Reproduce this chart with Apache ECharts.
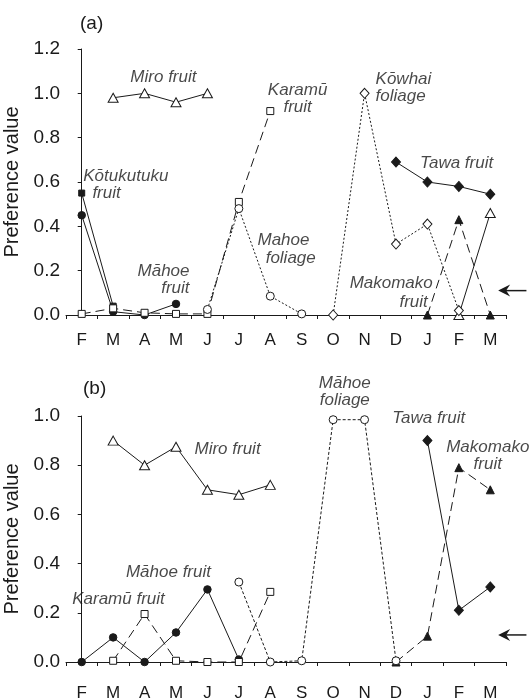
<!DOCTYPE html>
<html><head><meta charset="utf-8">
<script src="https://cdn.jsdelivr.net/npm/echarts@6/dist/echarts.min.js"></script>
<style>html,body{margin:0;padding:0;background:#fff}#c{width:529px;height:700px}</style>
</head><body><div id="c"></div>
<script>
// ---------- data ----------
const months = ['F','M','A','M','J','J','A','S','O','N','D','J','F','M'];
const _ = null;
// panel (a)
const aMiro        = [_,0.98,1.0,0.96,1.0,_,_,_,_,_,_,_,0.0,0.46];
const aKotukutuku  = [0.55,0.04,_,_,_,_,_,_,_,_,_,_,_,_];
const aMahoeFruit  = [0.45,0.015,0.0,0.05,_,_,_,_,_,_,_,_,_,_];
const aKaramu      = [0.005,0.03,0.01,0.005,0.005,0.51,0.92,_,_,_,_,_,_,_];
const aMahoeFol    = [_,_,_,_,0.025,0.48,0.085,0.005,_,_,_,_,_,_];
const aKowhai      = [_,_,_,_,_,_,_,_,0.0,1.0,0.32,0.41,0.02,_];
const aTawa        = [_,_,_,_,_,_,_,_,_,_,0.69,0.60,0.58,0.545];
const aMakomako    = [_,_,_,_,_,_,_,_,_,_,_,0.0,0.43,0.0];
// panel (b)
const bMiro        = [_,0.90,0.80,0.875,0.70,0.68,0.72,_,_,_,_,_,_,_];
const bMahoeFruit  = [0.0,0.10,0.0,0.12,0.295,0.01,_,_,_,_,_,_,_,_];
const bKaramu      = [_,0.005,0.195,0.005,0.0,0.0,0.285,_,_,_,_,_,_,_];
const bMahoeFol    = [_,_,_,_,_,0.325,0.0,0.005,0.985,0.985,0.005,_,_,_];
const bTawa        = [_,_,_,_,_,_,_,_,_,_,_,0.90,0.21,0.305];
const bMakomako    = [_,_,_,_,_,_,_,_,_,_,0.0,0.105,0.79,0.70];
// reference level marked by the arrow
const arrowLevel = [0.11, 0.11];
// y tick ranges
const yMaxA = 1.2, yMaxB = 1.0, yStep = 0.2;
// annotation texts
const annAText = ['Miro fruit','Kōtukutuku','fruit','Māhoe\nfruit','Karamū\nfruit','Kōwhai\nfoliage','Tawa fruit','Mahoe','foliage','Makomako','fruit'];
const annBText = ['Miro fruit','Māhoe fruit','Karamū fruit','Māhoe\nfoliage','Tawa fruit','Makomako\nfruit'];

// ---------- layout (data-coordinate anchors of annotations) ----------
const annAPos = [[2.6,1.073,'center'],[0.05,0.627,'left'],[0.34,0.55,'left'],[3.43,0.158,'right'],[6.87,0.974,'center'],
                 [9.35,1.024,'left'],[11.93,0.686,'center'],[6.42,0.338,'center'],[6.65,0.257,'center'],[11.17,0.144,'right'],[11.01,0.059,'right']];
const annBPos = [[4.64,0.865,'center'],[2.76,0.363,'center'],[1.17,0.257,'center'],[8.37,1.098,'center'],[11.04,0.992,'center'],[12.92,0.837,'center']];
const arrowX = [13.25, 14.15];

const INK = '#1a1a1a';
const FONT = '"Liberation Sans", Arial, sans-serif';
const LONG = [9,5], DOT = [2,2], DOT2 = [3,2];

function ls(name, data, ax, symbol, filled, size, dash) {
  return {type:'line', name, data, xAxisIndex:ax, yAxisIndex:ax, symbol, symbolSize:size,
    showSymbol:true, showAllSymbol:true, connectNulls:false, clip:false, animation:false, silent:true,
    lineStyle:{color:INK, width:1, type:dash},
    itemStyle:{color: filled ? INK : '#fff', borderColor:INK, borderWidth:1},
    emphasis:{disabled:true}};
}
function ann(texts, pos, xAx, yAx) {
  return {type:'scatter', xAxisIndex:xAx, yAxisIndex:yAx, clip:false, animation:false, silent:true,
    symbol:'circle', symbolSize:1, itemStyle:{color:'transparent'},
    data: texts.map((t,i)=>({name:t, value:[pos[i][0], pos[i][1]],
      label:{show:true, position:'inside', formatter:'{b}', align:pos[i][2], verticalAlign:'middle',
        fontSize:17, fontStyle:'italic', fontFamily:FONT, color:INK, lineHeight:17}})),
    emphasis:{disabled:true}};
}
function yAx(grid, max) {
  return {type:'value', gridIndex:grid, min:0, max, interval:yStep,
    name:'Preference value', nameLocation:'middle', nameGap:38,
    nameTextStyle:{fontSize:20, color:INK, fontFamily:FONT},
    axisLine:{show:true, lineStyle:{color:INK, width:1}},
    axisTick:{show:true, length:4, inside:false, lineStyle:{color:INK}},
    axisLabel:{show:true, margin:6, fontSize:19, color:INK, fontFamily:FONT, formatter:v=>v.toFixed(1)},
    splitLine:{show:false}};
}
function xCat(grid, margin) {
  return {type:'category', gridIndex:grid, data:months, boundaryGap:true,
    axisLine:{show:true, onZero:false, lineStyle:{color:INK, width:1}},
    axisTick:{show:true, length:4, inside:false, alignWithLabel:false, interval:0, lineStyle:{color:INK}},
    axisLabel:{show:true, interval:0, margin, fontSize:17, color:INK, fontFamily:FONT, hideOverlap:false},
    splitLine:{show:false}};
}
function xVal(grid) {
  return {type:'value', gridIndex:grid, min:-0.5, max:13.5, show:false, splitLine:{show:false}};
}

const chart = echarts.init(document.getElementById('c'), null, {renderer:'canvas'});
const option = {
  backgroundColor:'#fff',
  animation:false,
  textStyle:{fontFamily:FONT},
  title:[
    {text:'(a)', left:75, top:9, textStyle:{fontSize:19, fontWeight:'normal', color:INK, fontFamily:FONT}},
    {text:'(b)', left:78, top:374, textStyle:{fontSize:19, fontWeight:'normal', color:INK, fontFamily:FONT}}
  ],
  grid:[
    {left:66, right:23, top:49, height:266, containLabel:false, outerBoundsMode:'none'},
    {left:66, right:23, top:416, height:246, containLabel:false, outerBoundsMode:'none'}
  ],
  xAxis:[xCat(0,17), xCat(1,23), xVal(0), xVal(1)],
  yAxis:[yAx(0,yMaxA), yAx(1,yMaxB)],
  series:[
    ls('Kōtukutuku fruit', aKotukutuku, 0, 'rect', true, 6, 'solid'),
    ls('Māhoe fruit', aMahoeFruit, 0, 'circle', true, 7.5, 'solid'),
    ls('Karamū fruit', aKaramu, 0, 'rect', false, 7, LONG),
    ls('Mahoe foliage', aMahoeFol, 0, 'circle', false, 8, DOT),
    ls('Miro fruit', aMiro, 0, 'triangle', false, [10,9], 'solid'),
    ls('Kōwhai foliage', aKowhai, 0, 'diamond', false, [9,10], DOT),
    ls('Makomako fruit', aMakomako, 0, 'triangle', true, [8,8], LONG),
    ls('Tawa fruit', aTawa, 0, 'diamond', true, [9,10], 'solid'),

    ls('Miro fruit', bMiro, 1, 'triangle', false, [10,9], 'solid'),
    ls('Māhoe fruit', bMahoeFruit, 1, 'circle', true, 7.5, 'solid'),
    ls('Karamū fruit', bKaramu, 1, 'rect', false, 7, LONG),
    ls('Makomako fruit', bMakomako, 1, 'triangle', true, [8,8], LONG),
    ls('Māhoe foliage', bMahoeFol, 1, 'circle', false, 8, DOT2),
    ls('Tawa fruit', bTawa, 1, 'diamond', true, [9,10], 'solid'),

    ann(annAText, annAPos, 2, 0),
    ann(annBText, annBPos, 3, 1)
  ]
};
chart.setOption(option);

// arrows marking the reference level, positioned through the axes' scales
function arrow(xAxisIndex, yAxisIndex, level) {
  const tip = chart.convertToPixel({xAxisIndex, yAxisIndex}, [arrowX[0], level]);
  const tail = chart.convertToPixel({xAxisIndex, yAxisIndex}, [arrowX[1], level]);
  return [
    {type:'polygon', shape:{points:[[tip[0],tip[1]],[tip[0]+12,tip[1]-6],[tip[0]+8,tip[1]],[tip[0]+12,tip[1]+6]]},
     style:{fill:INK}, silent:true},
    {type:'line', shape:{x1:tip[0]+7, y1:tip[1], x2:tail[0], y2:tail[1]}, style:{stroke:INK, lineWidth:1.5}, silent:true}
  ];
}
chart.setOption({graphic:[...arrow(2,0,arrowLevel[0]), ...arrow(3,1,arrowLevel[1])]});
</script>
</body></html>
